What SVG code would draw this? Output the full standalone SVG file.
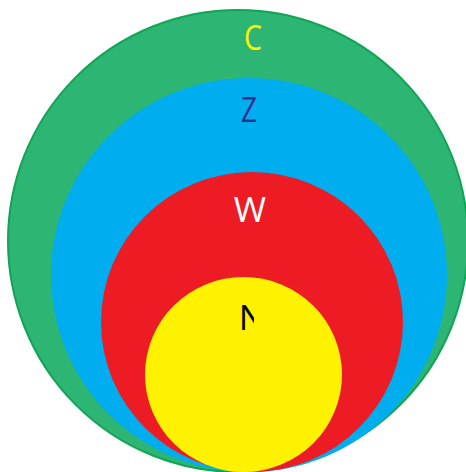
<svg xmlns="http://www.w3.org/2000/svg" width="466" height="472" viewBox="0 0 466 472">
<style>
.lbl{font-family:"Open Sans","Liberation Sans",sans-serif;font-size:35px;text-anchor:middle}
</style>
<defs>
<clipPath id="clipN"><rect x="0" y="0" width="254" height="472"/></clipPath>
</defs>
<rect width="466" height="472" fill="#ffffff"/>
<g id="node-C">
<ellipse cx="238" cy="241" rx="230" ry="231" fill="#2DB673" stroke="#10A455" stroke-width="2"/>
<text class="lbl" x="253" y="50" fill="#FFF200" textLength="18" lengthAdjust="spacingAndGlyphs">C</text>
</g>
<g id="node-Z">
<ellipse cx="249" cy="275" rx="198" ry="197" fill="#00AEEF"/>
<text class="lbl" x="249" y="122" fill="#2E3192" textLength="16" lengthAdjust="spacingAndGlyphs">Z</text>
</g>
<g id="node-W">
<ellipse cx="252" cy="322" rx="151" ry="150" fill="#ED1C24"/>
<text class="lbl" x="250" y="222" fill="#ffffff">W</text>
</g>
<g id="node-N">
<ellipse cx="243.5" cy="374.5" rx="98.5" ry="97.5" fill="#FFF200"/>
<text class="lbl" x="252" y="330" fill="#000000" clip-path="url(#clipN)">N</text>
</g>
<g id="connectors"></g>
</svg>
